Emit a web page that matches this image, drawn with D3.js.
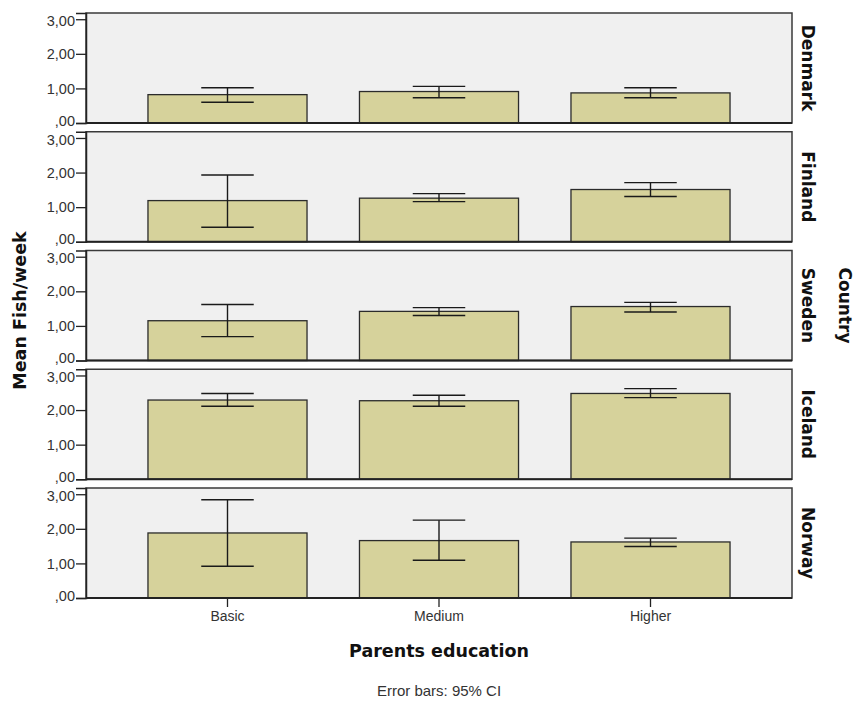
<!DOCTYPE html>
<html>
<head>
<meta charset="utf-8">
<script src="https://cdn.jsdelivr.net/npm/d3@7"></script>
<style>
  html, body { margin: 0; padding: 0; background: #ffffff; }
  svg { display: block; }
</style>
</head>
<body>
<svg id="chart" width="860" height="703"></svg>
<script>
// Mean fish meals per week by parents' education, one panel per country
const categories = ["Basic", "Medium", "Higher"];
const countries = ["Denmark", "Finland", "Sweden", "Iceland", "Norway"];
const meanValues = [
  [0.82, 0.91, 0.87],
  [1.19, 1.26, 1.51],
  [1.15, 1.42, 1.56],
  [2.29, 2.27, 2.48],
  [1.88, 1.66, 1.62]
];
const ciLower = [
  [0.60, 0.73, 0.73],
  [0.42, 1.16, 1.31],
  [0.69, 1.30, 1.40],
  [2.11, 2.11, 2.36],
  [0.92, 1.09, 1.49]
];
const ciUpper = [
  [1.02, 1.06, 1.02],
  [1.93, 1.39, 1.71],
  [1.62, 1.53, 1.68],
  [2.48, 2.43, 2.62],
  [2.84, 2.25, 1.73]
];
const yTicks = [0, 1, 2, 3];

const svg = d3.select("#chart");
const plotLeft = 86, plotRight = 792, plotTop = 13;
const panelH = 110, gap = 8.75;
const sans = "'Liberation Sans', Arial, sans-serif";
const bold = "'DejaVu Sans', Verdana, sans-serif";

const x = d3.scaleBand().domain(categories).range([plotLeft, plotRight])
  .paddingInner(0.248).paddingOuter(0.293);
const y = d3.scaleLinear().domain([0, 3.18]).range([panelH, 0]);
const fmt = v => d3.format(".2f")(v).replace(".", ",").replace(/^0,/, ",");

countries.forEach((country, i) => {
  const g = svg.append("g").attr("transform", `translate(0,${plotTop + i * (panelH + gap)})`);

  g.append("rect")
    .attr("x", plotLeft).attr("y", 0)
    .attr("width", plotRight - plotLeft).attr("height", panelH)
    .attr("fill", "#f0f0f0");

  const rows = categories.map((c, j) => ({
    cat: c, mean: meanValues[i][j], lo: ciLower[i][j], hi: ciUpper[i][j]
  }));

  g.selectAll("rect.bar").data(rows).enter().append("rect")
    .attr("class", "bar")
    .attr("x", d => x(d.cat))
    .attr("y", d => y(d.mean))
    .attr("width", x.bandwidth())
    .attr("height", d => y(0) - y(d.mean))
    .attr("fill", "#d6d29b")
    .attr("stroke", "#2b2b2b")
    .attr("stroke-width", 1.3);

  const capW = x.bandwidth() * 0.33;
  const cx = d => x(d.cat) + x.bandwidth() / 2;
  const eb = g.selectAll("g.err").data(rows).enter().append("g")
    .attr("class", "err")
    .attr("stroke", "#1a1a1a").attr("stroke-width", 1.4);
  eb.append("line")
    .attr("x1", cx).attr("x2", cx)
    .attr("y1", d => y(d.lo)).attr("y2", d => y(d.hi));
  eb.append("line")
    .attr("x1", d => cx(d) - capW / 2).attr("x2", d => cx(d) + capW / 2)
    .attr("y1", d => y(d.hi)).attr("y2", d => y(d.hi));
  eb.append("line")
    .attr("x1", d => cx(d) - capW / 2).attr("x2", d => cx(d) + capW / 2)
    .attr("y1", d => y(d.lo)).attr("y2", d => y(d.lo));

  // panel frame
  g.append("rect")
    .attr("x", plotLeft).attr("y", 0)
    .attr("width", plotRight - plotLeft).attr("height", panelH)
    .attr("fill", "none").attr("stroke", "#3a3a3a").attr("stroke-width", 1.5);
  g.append("line")
    .attr("x1", plotLeft).attr("x2", plotRight)
    .attr("y1", panelH).attr("y2", panelH)
    .attr("stroke", "#222").attr("stroke-width", 2);

  // value axis; the lowest and highest labels are nudged apart where panels meet
  const ya = g.append("g").attr("transform", `translate(${plotLeft},0)`)
    .call(d3.axisLeft(y).tickValues(yTicks).tickFormat(fmt).tickSize(10).tickPadding(1));
  ya.select(".domain").attr("stroke", "#222").attr("stroke-width", 1.5);
  ya.selectAll(".tick line").attr("stroke", "#222").attr("stroke-width", 1.3);
  ya.selectAll(".tick text")
    .attr("font-family", sans).attr("font-size", 14.5).attr("fill", "#333")
    .attr("y", d => d === 0 ? -2.5 : (d === 3 ? 1.5 : 0));

  // strip label
  g.append("text")
    .attr("transform", `translate(808,${panelH / 2}) rotate(90)`)
    .attr("text-anchor", "middle").attr("dominant-baseline", "central")
    .attr("font-family", bold).attr("font-weight", "bold").attr("font-size", 17)
    .attr("fill", "#111")
    .text(country);

  if (i === countries.length - 1) {
    const xa = g.append("g").attr("transform", `translate(0,${panelH})`)
      .call(d3.axisBottom(x).tickSize(9).tickPadding(4));
    xa.select(".domain").remove();
    xa.selectAll(".tick line").attr("stroke", "#222").attr("stroke-width", 1.3);
    xa.selectAll(".tick text")
      .attr("font-family", sans).attr("font-size", 14).attr("fill", "#333");
  }
});

const midX = (plotLeft + plotRight) / 2;
const panelsMid = plotTop + (5 * panelH + 4 * gap) / 2;

svg.append("text")
  .attr("transform", `translate(20,${panelsMid + 5}) rotate(-90)`)
  .attr("text-anchor", "middle").attr("dominant-baseline", "central")
  .attr("font-family", bold).attr("font-weight", "bold").attr("font-size", 17.5)
  .attr("fill", "#111")
  .text("Mean Fish/week");

svg.append("text")
  .attr("transform", `translate(845,${panelsMid}) rotate(90)`)
  .attr("text-anchor", "middle").attr("dominant-baseline", "central")
  .attr("font-family", bold).attr("font-weight", "bold").attr("font-size", 17)
  .attr("fill", "#111")
  .text("Country");

svg.append("text")
  .attr("x", midX).attr("y", 657)
  .attr("text-anchor", "middle")
  .attr("font-family", bold).attr("font-weight", "bold").attr("font-size", 17.5)
  .attr("fill", "#111")
  .text("Parents education");

svg.append("text")
  .attr("x", midX).attr("y", 696)
  .attr("text-anchor", "middle")
  .attr("font-family", sans).attr("font-size", 15)
  .attr("fill", "#333")
  .text("Error bars: 95% CI");
</script>
</body>
</html>
